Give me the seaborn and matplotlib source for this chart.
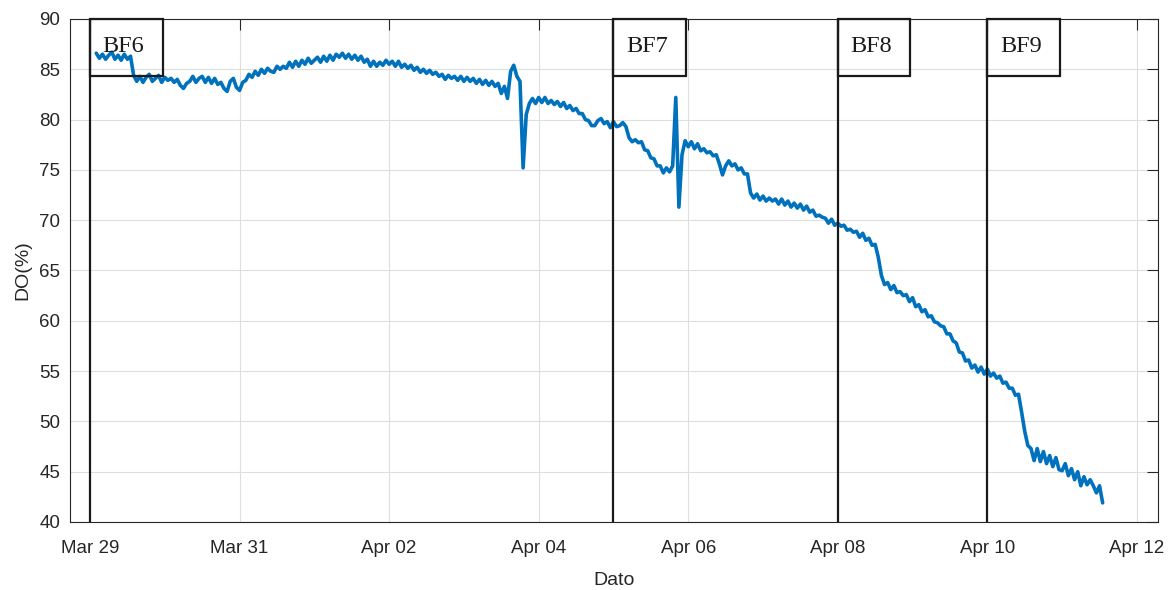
import numpy as np
import pandas as pd
import matplotlib
matplotlib.use("Agg")
import matplotlib.pyplot as plt
import matplotlib.dates as mdates
from matplotlib.patches import Rectangle
import seaborn as sns

# Hourly dissolved-oxygen readings (%), first sample at series_start
series_start = "2019-03-29 02:00"
do_percent = [
    86.6, 86.1, 86.5, 86.0, 86.4, 86.7, 86.0, 86.4, 85.9, 86.5, 86.0, 86.3,
    84.4, 83.8, 84.3, 83.7, 84.2, 84.5, 83.8, 84.1, 84.4, 83.7, 84.2, 83.9,
    84.1, 83.7, 84.0, 83.4, 83.1, 83.6, 83.8, 84.3, 83.7, 84.1, 84.3, 83.7,
    84.2, 83.6, 84.1, 83.5, 83.7, 83.1, 82.8, 83.8, 84.1, 83.2, 82.9, 83.7,
    83.9, 84.5, 84.2, 84.8, 84.4, 85.0, 84.6, 85.1, 84.8, 84.7, 85.3, 85.0,
    85.3, 85.1, 85.7, 85.2, 85.8, 85.3, 85.9, 85.5, 86.1, 85.6, 85.9, 86.2,
    85.7, 86.3, 85.8, 86.4, 85.9, 86.5, 86.2, 86.6, 86.1, 86.5, 86.0, 86.4,
    85.9, 86.3, 85.7, 86.0, 85.3, 85.8, 85.3, 85.7, 85.4, 85.9, 85.5, 85.8,
    85.3, 85.8, 85.2, 85.5, 85.1, 85.4, 84.9, 85.2, 84.7, 85.0, 84.6, 84.9,
    84.5, 84.7, 84.3, 84.5, 84.0, 84.4, 84.1, 84.3, 83.9, 84.3, 83.8, 84.2,
    83.8, 84.1, 83.6, 84.0, 83.5, 83.9, 83.4, 83.8, 83.3, 83.6, 82.6, 83.3,
    82.1, 84.8, 85.4, 84.3, 83.8, 75.2, 80.5, 81.6, 82.1, 81.6, 82.2, 81.7,
    82.2, 81.6, 81.9, 81.5, 81.8, 81.3, 81.7, 81.1, 81.4, 80.9, 81.1, 80.6,
    80.6, 80.0, 79.9, 79.4, 79.4, 79.9, 80.1, 79.6, 79.8, 79.2, 79.8, 79.3,
    79.4, 79.7, 79.3, 78.2, 77.8, 78.0, 77.7, 77.8, 77.0, 76.9, 76.2, 76.1,
    75.4, 75.4, 74.7, 75.2, 74.8, 75.4, 82.2, 71.3, 76.5, 77.9, 77.3, 77.8,
    77.1, 77.6, 76.9, 77.1, 76.7, 76.8, 76.4, 76.5, 75.6, 74.5, 75.4, 75.9,
    75.4, 75.6, 75.0, 75.2, 74.6, 74.6, 72.7, 72.2, 72.6, 72.0, 72.4, 71.9,
    72.2, 71.9, 72.1, 71.6, 72.1, 71.5, 71.9, 71.3, 71.7, 71.2, 71.6, 71.0,
    71.4, 70.8, 71.0, 70.4, 70.5, 70.3, 70.2, 69.7, 70.1, 69.5, 69.7, 69.4,
    69.5, 69.0, 69.1, 68.8, 68.9, 68.3, 68.7, 68.0, 68.2, 67.5, 67.6, 66.3,
    64.5, 63.6, 63.8, 63.1, 63.5, 62.8, 62.9, 62.5, 62.6, 61.9, 62.3, 61.4,
    61.6, 60.9, 61.1, 60.4, 60.5, 59.9, 59.8, 59.5, 59.4, 58.7, 58.7, 58.0,
    57.8, 56.9, 56.8, 56.0, 56.1, 55.3, 55.6, 54.9, 55.4, 54.7, 55.2, 54.5,
    54.8, 54.3, 54.5, 53.8, 53.9, 53.3, 53.3, 52.6, 52.7, 50.9, 49.0, 47.6,
    47.3, 46.1, 47.3, 46.0, 47.0, 45.8, 46.6, 45.5, 46.4, 45.2, 45.1, 45.8,
    44.6, 45.3, 44.2, 45.0, 43.6, 44.5, 43.7, 44.2, 43.6, 42.9, 43.6, 41.9,
]

# Sampling campaigns marked on the series
event_dates = ["2019-03-29", "2019-04-05", "2019-04-08", "2019-04-10"]
event_labels = ["BF6", "BF7", "BF8", "BF9"]

tick_dates = ["2019-03-29", "2019-03-31", "2019-04-02", "2019-04-04",
              "2019-04-06", "2019-04-08", "2019-04-10", "2019-04-12"]
tick_labels = ["Mar 29", "Mar 31", "Apr 02", "Apr 04",
               "Apr 06", "Apr 08", "Apr 10", "Apr 12"]
y_ticks = [40, 45, 50, 55, 60, 65, 70, 75, 80, 85, 90]

times = pd.date_range(series_start, periods=len(do_percent), freq="h")
df = pd.DataFrame({"Dato": times, "DO": do_percent})

sns.set_style("white")
plt.rcParams["font.family"] = ["Liberation Sans", "DejaVu Sans"]

ink = "#262626"
fig = plt.figure(figsize=(11.7, 5.9), dpi=100)
ax = fig.add_axes([0.0598, 0.1153, 0.9299, 0.8525])

sns.lineplot(data=df, x="Dato", y="DO", ax=ax, color="#0072BD", lw=2.6, zorder=3)

ax.set_xlim(pd.Timestamp("2019-03-28 17:34"), pd.Timestamp("2019-04-12 06:45"))
ax.set_ylim(40, 90)
ax.set_xticks(pd.to_datetime(tick_dates))
ax.set_xticklabels(tick_labels)
ax.set_yticks(y_ticks)

ax.grid(True, color="#dedede", lw=0.8, zorder=0)
ax.set_axisbelow(True)
ax.tick_params(axis="both", direction="in", length=8, width=0.8,
               top=True, right=True, labelsize=13.5, colors=ink)
ax.tick_params(axis="x", pad=13)
ax.tick_params(axis="y", pad=7)
for s in ax.spines.values():
    s.set_color(ink)
    s.set_linewidth(0.8)

box_w = 0.97
box_bottom = 84.3
for d, lab in zip(event_dates, event_labels):
    xd = mdates.date2num(pd.Timestamp(d))
    ax.axvline(xd, color="#1a1a1a", lw=1.6, zorder=4)
    ax.add_patch(Rectangle((xd, box_bottom), box_w, 90 - box_bottom, fill=False,
                           ec="#1a1a1a", lw=1.6, zorder=5, clip_on=False))
    ax.text(xd + 0.17, 86.7, lab, family="Liberation Serif", fontsize=17.5,
            va="baseline", ha="left", color="#1a1a1a", zorder=6)

ax.set_xlabel("Dato", fontsize=14, color=ink, labelpad=11)
ax.set_ylabel("DO(%)", fontsize=14, color=ink, labelpad=6)

fig.savefig("out.png", dpi=100)
